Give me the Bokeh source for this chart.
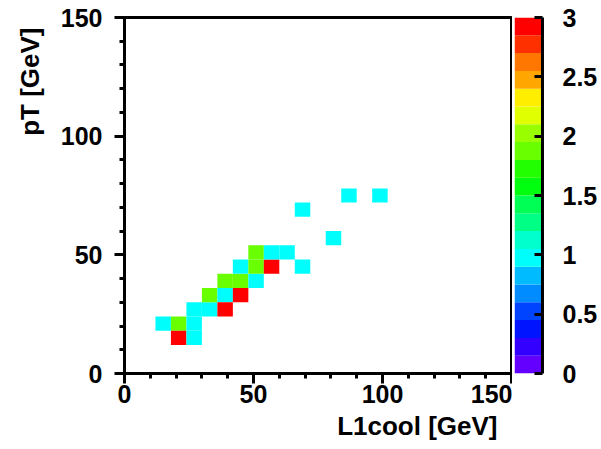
import colorsys
import numpy as np
from bokeh.plotting import figure
from bokeh.layouts import row
from bokeh.models import (ColumnDataSource, LinearColorMapper, FixedTicker, Title)
from bokeh.transform import transform
from bokeh.embed import file_html
from bokeh.resources import INLINE

# ---- data: 2D histogram, 25 x 25 bins of 6 GeV on [0,150] x [0,150] ----
# (cell contents read from the colour scale: cyan ~1, green ~1.9, red ~3)
bin_width = 6.0
x_centers = [15, 21, 21, 27, 27, 27, 33, 33, 39, 39, 39, 45, 45, 45,
             51, 51, 51, 57, 57, 63, 69, 69, 81, 87, 99]
y_centers = [21, 21, 15, 15, 21, 27, 27, 33, 33, 27, 39, 39, 33, 45,
             39, 45, 51, 45, 51, 51, 45, 69, 57, 75, 75]
counts = [1, 1.9, 3, 1, 1, 1, 1, 1.9, 1, 3, 1.9, 1.9, 3, 1,
          1, 1.9, 1.9, 3, 1, 1, 1, 1, 1, 1, 1]

x_title = "L1cool [GeV]"
y_title = "pT [GeV]"
axis_ticks = [0, 50, 100, 150]
z_min, z_max = 0, 3
z_ticks = [0, 0.5, 1, 1.5, 2, 2.5, 3]
z_tick_labels = ["0", "0.5", "1", "1.5", "2", "2.5", "3"]

# ---- ROOT "pretty" palette (violet -> red), 20 contour levels ----
n_levels = 20
n_pretty = 50
palette = []
for k in range(n_levels):
    ci = int((k + 0.99) * n_pretty / n_levels)
    hue = 280.0 - (ci + 1) * (280.0 / n_pretty)
    r, g, b = colorsys.hls_to_rgb(hue / 360.0, 0.5, 1.0)
    palette.append("#%02x%02x%02x" % (round(r * 255), round(g * 255), round(b * 255)))

mapper = LinearColorMapper(palette=palette, low=z_min, high=z_max)

src = ColumnDataSource(dict(x=x_centers, y=y_centers, z=counts))

FONT = "Liberation Sans"


def style_axis(ax):
    ax.axis_line_width = 3
    ax.axis_line_color = "black"
    ax.major_tick_line_width = 3
    ax.minor_tick_line_width = 3
    ax.major_tick_line_color = "black"
    ax.major_label_text_font = FONT
    ax.major_label_text_font_style = "bold"
    ax.major_label_text_font_size = "25px"
    ax.major_label_text_color = "black"


# ---------------- main 2D histogram ----------------
p = figure(width=512, height=449, x_range=(0, 150), y_range=(0, 150),
           output_backend="svg", toolbar_location=None,
           min_border_left=123, min_border_right=1,
           min_border_top=17, min_border_bottom=76)
p.grid.visible = False
p.outline_line_color = "black"
p.outline_line_width = 3

p.rect(x="x", y="y", width=bin_width, height=bin_width, source=src,
       fill_color=transform("z", mapper), line_color=None)

for ax in (p.xaxis[0], p.yaxis[0]):
    ax.ticker = FixedTicker(ticks=axis_ticks,
                            minor_ticks=list(range(0, 151, 10)))
    style_axis(ax)
    ax.major_tick_in = 0
    ax.major_tick_out = 10
    ax.minor_tick_in = 0
    ax.minor_tick_out = 5

p.xaxis[0].major_label_standoff = 1
p.yaxis[0].major_label_standoff = 12

tx = Title(text=x_title, align="right", offset=14, standoff=7,
           text_font=FONT, text_font_style="bold", text_font_size="26px",
           text_color="black")
ty = Title(text=y_title, align="right", offset=10, standoff=25,
           text_font=FONT, text_font_style="bold", text_font_size="26px",
           text_color="black")
p.add_layout(tx, "below")
p.add_layout(ty, "left")

# ---------------- palette axis (colour scale) ----------------
levels = np.linspace(z_min, z_max, n_levels + 1)
pal_src = ColumnDataSource(dict(bottom=levels[:-1], top=levels[1:], color=palette))

pz = figure(width=89, height=449, x_range=(0, 1), y_range=(z_min, z_max),
            output_backend="svg", toolbar_location=None,
            y_axis_location="right",
            min_border_left=2, min_border_right=59,
            min_border_top=17, min_border_bottom=76)
pz.grid.visible = False
pz.outline_line_color = None
pz.xaxis.visible = False
pz.quad(left=0, right=1, bottom="bottom", top="top", fill_color="color",
        line_color=None, source=pal_src)

az = pz.yaxis[0]
az.ticker = FixedTicker(ticks=z_ticks)
az.major_label_overrides = {t: s for t, s in zip(z_ticks, z_tick_labels)}
style_axis(az)
az.major_tick_in = 8
az.major_tick_out = 0
az.minor_tick_line_color = None
az.major_label_standoff = 20

layout = row(p, pz, spacing=0)

open("out.html", "w").write(file_html(layout, INLINE))
